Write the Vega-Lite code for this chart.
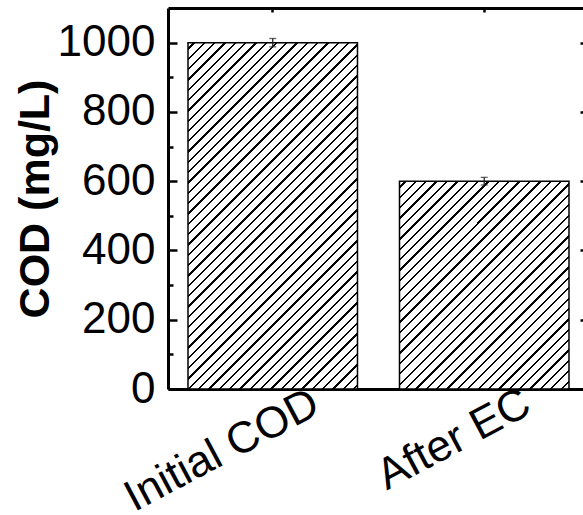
{
  "$schema": "https://vega.github.io/schema/vega-lite/v6.json",
  "autosize": "none",
  "padding": {"left": 168, "top": 8, "right": 0, "bottom": 126},
  "width": 415,
  "height": 381,
  "background": "white",
  "data": {"values": [
    {"cat": "Initial COD", "cod": 1000, "lo": 988, "hi": 1012},
    {"cat": "After EC", "cod": 600, "lo": 589, "hi": 611}
  ]},
  "config": {
    "view": {"stroke": null},
    "axis": {"domainColor": "black", "tickColor": "black", "tickWidth": 2.5, "labelFont": "Liberation Sans", "titleFont": "Liberation Sans", "labelColor": "black", "titleColor": "black", "grid": false, "labelLimit": 400}
  },
  "layer": [
    {
      "transform": [{"filter": "datum.cat === 'Initial COD'"}],
      "mark": {"type": "bar", "stroke": "black", "strokeWidth": 1.5, "fill": {"gradient": "linear", "x1": 0, "y1": 0, "x2": 0.588, "y2": 1.2016, "stops": [
        {"offset": 0, "color": "#fff"},
        {"offset": 0.01, "color": "#fff"}, {"offset": 0.01, "color": "#000"}, {"offset": 0.0145, "color": "#000"}, {"offset": 0.0145, "color": "#fff"},
        {"offset": 0.03, "color": "#fff"}, {"offset": 0.03, "color": "#000"}, {"offset": 0.0345, "color": "#000"}, {"offset": 0.0345, "color": "#fff"},
        {"offset": 0.05, "color": "#fff"}, {"offset": 0.05, "color": "#000"}, {"offset": 0.0545, "color": "#000"}, {"offset": 0.0545, "color": "#fff"},
        {"offset": 0.07, "color": "#fff"}, {"offset": 0.07, "color": "#000"}, {"offset": 0.0745, "color": "#000"}, {"offset": 0.0745, "color": "#fff"},
        {"offset": 0.09, "color": "#fff"}, {"offset": 0.09, "color": "#000"}, {"offset": 0.0945, "color": "#000"}, {"offset": 0.0945, "color": "#fff"},
        {"offset": 0.11, "color": "#fff"}, {"offset": 0.11, "color": "#000"}, {"offset": 0.1145, "color": "#000"}, {"offset": 0.1145, "color": "#fff"},
        {"offset": 0.13, "color": "#fff"}, {"offset": 0.13, "color": "#000"}, {"offset": 0.1345, "color": "#000"}, {"offset": 0.1345, "color": "#fff"},
        {"offset": 0.15, "color": "#fff"}, {"offset": 0.15, "color": "#000"}, {"offset": 0.1545, "color": "#000"}, {"offset": 0.1545, "color": "#fff"},
        {"offset": 0.17, "color": "#fff"}, {"offset": 0.17, "color": "#000"}, {"offset": 0.1745, "color": "#000"}, {"offset": 0.1745, "color": "#fff"},
        {"offset": 0.19, "color": "#fff"}, {"offset": 0.19, "color": "#000"}, {"offset": 0.1945, "color": "#000"}, {"offset": 0.1945, "color": "#fff"},
        {"offset": 0.21, "color": "#fff"}, {"offset": 0.21, "color": "#000"}, {"offset": 0.2145, "color": "#000"}, {"offset": 0.2145, "color": "#fff"},
        {"offset": 0.23, "color": "#fff"}, {"offset": 0.23, "color": "#000"}, {"offset": 0.2345, "color": "#000"}, {"offset": 0.2345, "color": "#fff"},
        {"offset": 0.25, "color": "#fff"}, {"offset": 0.25, "color": "#000"}, {"offset": 0.2545, "color": "#000"}, {"offset": 0.2545, "color": "#fff"},
        {"offset": 0.27, "color": "#fff"}, {"offset": 0.27, "color": "#000"}, {"offset": 0.2745, "color": "#000"}, {"offset": 0.2745, "color": "#fff"},
        {"offset": 0.29, "color": "#fff"}, {"offset": 0.29, "color": "#000"}, {"offset": 0.2945, "color": "#000"}, {"offset": 0.2945, "color": "#fff"},
        {"offset": 0.31, "color": "#fff"}, {"offset": 0.31, "color": "#000"}, {"offset": 0.3145, "color": "#000"}, {"offset": 0.3145, "color": "#fff"},
        {"offset": 0.33, "color": "#fff"}, {"offset": 0.33, "color": "#000"}, {"offset": 0.3345, "color": "#000"}, {"offset": 0.3345, "color": "#fff"},
        {"offset": 0.35, "color": "#fff"}, {"offset": 0.35, "color": "#000"}, {"offset": 0.3545, "color": "#000"}, {"offset": 0.3545, "color": "#fff"},
        {"offset": 0.37, "color": "#fff"}, {"offset": 0.37, "color": "#000"}, {"offset": 0.3745, "color": "#000"}, {"offset": 0.3745, "color": "#fff"},
        {"offset": 0.39, "color": "#fff"}, {"offset": 0.39, "color": "#000"}, {"offset": 0.3945, "color": "#000"}, {"offset": 0.3945, "color": "#fff"},
        {"offset": 0.41, "color": "#fff"}, {"offset": 0.41, "color": "#000"}, {"offset": 0.4145, "color": "#000"}, {"offset": 0.4145, "color": "#fff"},
        {"offset": 0.43, "color": "#fff"}, {"offset": 0.43, "color": "#000"}, {"offset": 0.4345, "color": "#000"}, {"offset": 0.4345, "color": "#fff"},
        {"offset": 0.45, "color": "#fff"}, {"offset": 0.45, "color": "#000"}, {"offset": 0.4545, "color": "#000"}, {"offset": 0.4545, "color": "#fff"},
        {"offset": 0.47, "color": "#fff"}, {"offset": 0.47, "color": "#000"}, {"offset": 0.4745, "color": "#000"}, {"offset": 0.4745, "color": "#fff"},
        {"offset": 0.49, "color": "#fff"}, {"offset": 0.49, "color": "#000"}, {"offset": 0.4945, "color": "#000"}, {"offset": 0.4945, "color": "#fff"},
        {"offset": 0.51, "color": "#fff"}, {"offset": 0.51, "color": "#000"}, {"offset": 0.5145, "color": "#000"}, {"offset": 0.5145, "color": "#fff"},
        {"offset": 0.53, "color": "#fff"}, {"offset": 0.53, "color": "#000"}, {"offset": 0.5345, "color": "#000"}, {"offset": 0.5345, "color": "#fff"},
        {"offset": 0.55, "color": "#fff"}, {"offset": 0.55, "color": "#000"}, {"offset": 0.5545, "color": "#000"}, {"offset": 0.5545, "color": "#fff"},
        {"offset": 0.57, "color": "#fff"}, {"offset": 0.57, "color": "#000"}, {"offset": 0.5745, "color": "#000"}, {"offset": 0.5745, "color": "#fff"},
        {"offset": 0.59, "color": "#fff"}, {"offset": 0.59, "color": "#000"}, {"offset": 0.5945, "color": "#000"}, {"offset": 0.5945, "color": "#fff"},
        {"offset": 0.61, "color": "#fff"}, {"offset": 0.61, "color": "#000"}, {"offset": 0.6145, "color": "#000"}, {"offset": 0.6145, "color": "#fff"},
        {"offset": 0.63, "color": "#fff"}, {"offset": 0.63, "color": "#000"}, {"offset": 0.6345, "color": "#000"}, {"offset": 0.6345, "color": "#fff"},
        {"offset": 0.65, "color": "#fff"}, {"offset": 0.65, "color": "#000"}, {"offset": 0.6545, "color": "#000"}, {"offset": 0.6545, "color": "#fff"},
        {"offset": 0.67, "color": "#fff"}, {"offset": 0.67, "color": "#000"}, {"offset": 0.6745, "color": "#000"}, {"offset": 0.6745, "color": "#fff"},
        {"offset": 0.69, "color": "#fff"}, {"offset": 0.69, "color": "#000"}, {"offset": 0.6945, "color": "#000"}, {"offset": 0.6945, "color": "#fff"},
        {"offset": 0.71, "color": "#fff"}, {"offset": 0.71, "color": "#000"}, {"offset": 0.7145, "color": "#000"}, {"offset": 0.7145, "color": "#fff"},
        {"offset": 0.73, "color": "#fff"}, {"offset": 0.73, "color": "#000"}, {"offset": 0.7345, "color": "#000"}, {"offset": 0.7345, "color": "#fff"},
        {"offset": 0.75, "color": "#fff"}, {"offset": 0.75, "color": "#000"}, {"offset": 0.7545, "color": "#000"}, {"offset": 0.7545, "color": "#fff"},
        {"offset": 0.77, "color": "#fff"}, {"offset": 0.77, "color": "#000"}, {"offset": 0.7745, "color": "#000"}, {"offset": 0.7745, "color": "#fff"},
        {"offset": 0.79, "color": "#fff"}, {"offset": 0.79, "color": "#000"}, {"offset": 0.7945, "color": "#000"}, {"offset": 0.7945, "color": "#fff"},
        {"offset": 0.81, "color": "#fff"}, {"offset": 0.81, "color": "#000"}, {"offset": 0.8145, "color": "#000"}, {"offset": 0.8145, "color": "#fff"},
        {"offset": 0.83, "color": "#fff"}, {"offset": 0.83, "color": "#000"}, {"offset": 0.8345, "color": "#000"}, {"offset": 0.8345, "color": "#fff"},
        {"offset": 0.85, "color": "#fff"}, {"offset": 0.85, "color": "#000"}, {"offset": 0.8545, "color": "#000"}, {"offset": 0.8545, "color": "#fff"},
        {"offset": 0.87, "color": "#fff"}, {"offset": 0.87, "color": "#000"}, {"offset": 0.8745, "color": "#000"}, {"offset": 0.8745, "color": "#fff"},
        {"offset": 0.89, "color": "#fff"}, {"offset": 0.89, "color": "#000"}, {"offset": 0.8945, "color": "#000"}, {"offset": 0.8945, "color": "#fff"},
        {"offset": 0.91, "color": "#fff"}, {"offset": 0.91, "color": "#000"}, {"offset": 0.9145, "color": "#000"}, {"offset": 0.9145, "color": "#fff"},
        {"offset": 0.93, "color": "#fff"}, {"offset": 0.93, "color": "#000"}, {"offset": 0.9345, "color": "#000"}, {"offset": 0.9345, "color": "#fff"},
        {"offset": 0.95, "color": "#fff"}, {"offset": 0.95, "color": "#000"}, {"offset": 0.9545, "color": "#000"}, {"offset": 0.9545, "color": "#fff"},
        {"offset": 0.97, "color": "#fff"}, {"offset": 0.97, "color": "#000"}, {"offset": 0.9745, "color": "#000"}, {"offset": 0.9745, "color": "#fff"},
        {"offset": 0.99, "color": "#fff"}, {"offset": 0.99, "color": "#000"}, {"offset": 0.9945, "color": "#000"}, {"offset": 0.9945, "color": "#fff"},
        {"offset": 1, "color": "#fff"}
      ]}},
      "encoding": {
        "x": {"field": "cat", "type": "nominal", "sort": null,
          "scale": {"domain": ["Initial COD", "After EC"], "paddingInner": 0.1986, "paddingOuter": 0.0804, "align": 0.588},
          "axis": {"orient": "bottom", "title": null, "labelAngle": -28, "labelAlign": "right", "labelBaseline": "top", "labelFontSize": 44, "labelOffset": 33, "labelPadding": -8, "ticks": false, "domainWidth": 3}},
        "y": {"field": "cod", "type": "quantitative",
          "scale": {"domain": [0, 1100], "nice": false, "zero": true},
          "axis": {"orient": "left", "title": "COD (mg/L)", "values": [0, 200, 400, 600, 800, 1000], "format": "d",
            "tickSize": -9,
            "labelFontSize": 44, "labelPadding": 22, "titleFontSize": 43, "titleFontWeight": "bold", "titlePadding": 0, "domainWidth": 3}}
      }
    },
    {
      "transform": [{"filter": "datum.cat === 'After EC'"}],
      "mark": {"type": "bar", "stroke": "black", "strokeWidth": 1.5, "fill": {"gradient": "linear", "x1": 0, "y1": 0, "x2": 0.8893, "y2": 1.0903, "stops": [
        {"offset": 0, "color": "#fff"},
        {"offset": 0.01375, "color": "#fff"}, {"offset": 0.01375, "color": "#000"}, {"offset": 0.01975, "color": "#000"}, {"offset": 0.01975, "color": "#fff"},
        {"offset": 0.04125, "color": "#fff"}, {"offset": 0.04125, "color": "#000"}, {"offset": 0.04725, "color": "#000"}, {"offset": 0.04725, "color": "#fff"},
        {"offset": 0.06875, "color": "#fff"}, {"offset": 0.06875, "color": "#000"}, {"offset": 0.07475, "color": "#000"}, {"offset": 0.07475, "color": "#fff"},
        {"offset": 0.09625, "color": "#fff"}, {"offset": 0.09625, "color": "#000"}, {"offset": 0.10225, "color": "#000"}, {"offset": 0.10225, "color": "#fff"},
        {"offset": 0.12375, "color": "#fff"}, {"offset": 0.12375, "color": "#000"}, {"offset": 0.12975, "color": "#000"}, {"offset": 0.12975, "color": "#fff"},
        {"offset": 0.15125, "color": "#fff"}, {"offset": 0.15125, "color": "#000"}, {"offset": 0.15725, "color": "#000"}, {"offset": 0.15725, "color": "#fff"},
        {"offset": 0.17875, "color": "#fff"}, {"offset": 0.17875, "color": "#000"}, {"offset": 0.18475, "color": "#000"}, {"offset": 0.18475, "color": "#fff"},
        {"offset": 0.20625, "color": "#fff"}, {"offset": 0.20625, "color": "#000"}, {"offset": 0.21225, "color": "#000"}, {"offset": 0.21225, "color": "#fff"},
        {"offset": 0.23375, "color": "#fff"}, {"offset": 0.23375, "color": "#000"}, {"offset": 0.23975, "color": "#000"}, {"offset": 0.23975, "color": "#fff"},
        {"offset": 0.26125, "color": "#fff"}, {"offset": 0.26125, "color": "#000"}, {"offset": 0.26725, "color": "#000"}, {"offset": 0.26725, "color": "#fff"},
        {"offset": 0.28875, "color": "#fff"}, {"offset": 0.28875, "color": "#000"}, {"offset": 0.29475, "color": "#000"}, {"offset": 0.29475, "color": "#fff"},
        {"offset": 0.31625, "color": "#fff"}, {"offset": 0.31625, "color": "#000"}, {"offset": 0.32225, "color": "#000"}, {"offset": 0.32225, "color": "#fff"},
        {"offset": 0.34375, "color": "#fff"}, {"offset": 0.34375, "color": "#000"}, {"offset": 0.34975, "color": "#000"}, {"offset": 0.34975, "color": "#fff"},
        {"offset": 0.37125, "color": "#fff"}, {"offset": 0.37125, "color": "#000"}, {"offset": 0.37725, "color": "#000"}, {"offset": 0.37725, "color": "#fff"},
        {"offset": 0.39875, "color": "#fff"}, {"offset": 0.39875, "color": "#000"}, {"offset": 0.40475, "color": "#000"}, {"offset": 0.40475, "color": "#fff"},
        {"offset": 0.42625, "color": "#fff"}, {"offset": 0.42625, "color": "#000"}, {"offset": 0.43225, "color": "#000"}, {"offset": 0.43225, "color": "#fff"},
        {"offset": 0.45375, "color": "#fff"}, {"offset": 0.45375, "color": "#000"}, {"offset": 0.45975, "color": "#000"}, {"offset": 0.45975, "color": "#fff"},
        {"offset": 0.48125, "color": "#fff"}, {"offset": 0.48125, "color": "#000"}, {"offset": 0.48725, "color": "#000"}, {"offset": 0.48725, "color": "#fff"},
        {"offset": 0.50875, "color": "#fff"}, {"offset": 0.50875, "color": "#000"}, {"offset": 0.51475, "color": "#000"}, {"offset": 0.51475, "color": "#fff"},
        {"offset": 0.53625, "color": "#fff"}, {"offset": 0.53625, "color": "#000"}, {"offset": 0.54225, "color": "#000"}, {"offset": 0.54225, "color": "#fff"},
        {"offset": 0.56375, "color": "#fff"}, {"offset": 0.56375, "color": "#000"}, {"offset": 0.56975, "color": "#000"}, {"offset": 0.56975, "color": "#fff"},
        {"offset": 0.59125, "color": "#fff"}, {"offset": 0.59125, "color": "#000"}, {"offset": 0.59725, "color": "#000"}, {"offset": 0.59725, "color": "#fff"},
        {"offset": 0.61875, "color": "#fff"}, {"offset": 0.61875, "color": "#000"}, {"offset": 0.62475, "color": "#000"}, {"offset": 0.62475, "color": "#fff"},
        {"offset": 0.64625, "color": "#fff"}, {"offset": 0.64625, "color": "#000"}, {"offset": 0.65225, "color": "#000"}, {"offset": 0.65225, "color": "#fff"},
        {"offset": 0.67375, "color": "#fff"}, {"offset": 0.67375, "color": "#000"}, {"offset": 0.67975, "color": "#000"}, {"offset": 0.67975, "color": "#fff"},
        {"offset": 0.70125, "color": "#fff"}, {"offset": 0.70125, "color": "#000"}, {"offset": 0.70725, "color": "#000"}, {"offset": 0.70725, "color": "#fff"},
        {"offset": 0.72875, "color": "#fff"}, {"offset": 0.72875, "color": "#000"}, {"offset": 0.73475, "color": "#000"}, {"offset": 0.73475, "color": "#fff"},
        {"offset": 0.75625, "color": "#fff"}, {"offset": 0.75625, "color": "#000"}, {"offset": 0.76225, "color": "#000"}, {"offset": 0.76225, "color": "#fff"},
        {"offset": 0.78375, "color": "#fff"}, {"offset": 0.78375, "color": "#000"}, {"offset": 0.78975, "color": "#000"}, {"offset": 0.78975, "color": "#fff"},
        {"offset": 0.81125, "color": "#fff"}, {"offset": 0.81125, "color": "#000"}, {"offset": 0.81725, "color": "#000"}, {"offset": 0.81725, "color": "#fff"},
        {"offset": 0.83875, "color": "#fff"}, {"offset": 0.83875, "color": "#000"}, {"offset": 0.84475, "color": "#000"}, {"offset": 0.84475, "color": "#fff"},
        {"offset": 0.86625, "color": "#fff"}, {"offset": 0.86625, "color": "#000"}, {"offset": 0.87225, "color": "#000"}, {"offset": 0.87225, "color": "#fff"},
        {"offset": 0.89375, "color": "#fff"}, {"offset": 0.89375, "color": "#000"}, {"offset": 0.89975, "color": "#000"}, {"offset": 0.89975, "color": "#fff"},
        {"offset": 0.92125, "color": "#fff"}, {"offset": 0.92125, "color": "#000"}, {"offset": 0.92725, "color": "#000"}, {"offset": 0.92725, "color": "#fff"},
        {"offset": 0.94875, "color": "#fff"}, {"offset": 0.94875, "color": "#000"}, {"offset": 0.95475, "color": "#000"}, {"offset": 0.95475, "color": "#fff"},
        {"offset": 0.97625, "color": "#fff"}, {"offset": 0.97625, "color": "#000"}, {"offset": 0.98225, "color": "#000"}, {"offset": 0.98225, "color": "#fff"},
        {"offset": 1, "color": "#fff"}
      ]}},
      "encoding": {
        "x": {"field": "cat", "type": "nominal", "sort": null, "axis": null},
        "y": {"field": "cod", "type": "quantitative", "axis": null}
      }
    },
    {
      "mark": {"type": "rule", "color": "#222", "strokeWidth": 1.3},
      "encoding": {
        "x": {"field": "cat", "type": "nominal", "sort": null,
          "axis": {"orient": "top", "title": null, "labels": false, "tickSize": -4, "domainWidth": 3}},
        "y": {"field": "lo", "type": "quantitative",
          "axis": {"orient": "right", "title": null, "labels": false, "offset": 6, "values": [0, 200, 400, 600, 800, 1000],
            "tickSize": -9, "domainWidth": 3}},
        "y2": {"field": "hi"}
      }
    },
    {
      "mark": {"type": "tick", "orient": "horizontal", "color": "#222", "size": 7, "thickness": 1.3},
      "encoding": {
        "x": {"field": "cat", "type": "nominal", "sort": null, "axis": null},
        "y": {"field": "lo", "type": "quantitative",
          "axis": {"orient": "left", "title": null, "labels": false, "domain": false, "values": [100, 300, 500, 700, 900], "tickSize": -5}}
      }
    },
    {
      "mark": {"type": "tick", "orient": "horizontal", "color": "#222", "size": 7, "thickness": 1.3},
      "encoding": {
        "x": {"field": "cat", "type": "nominal", "sort": null, "axis": null},
        "y": {"field": "hi", "type": "quantitative",
          "axis": {"orient": "right", "title": null, "labels": false, "domain": false, "offset": 6, "values": [100, 300, 500, 700, 900], "tickSize": -5}}
      }
    }
  ],
  "resolve": {"axis": {"x": "independent", "y": "independent"}}
}
